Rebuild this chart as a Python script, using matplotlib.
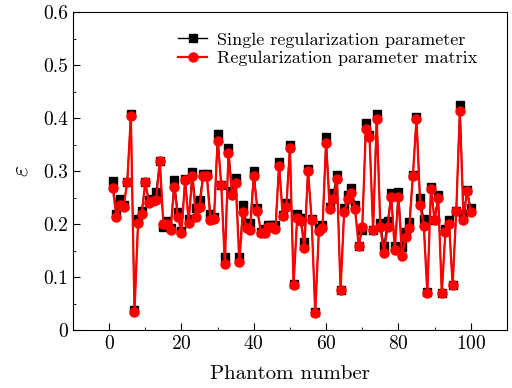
import matplotlib
matplotlib.use("Agg")
import matplotlib.pyplot as plt
from matplotlib.ticker import MultipleLocator

phantom = list(range(1, 101))

single_param = [
    0.281, 0.220, 0.248, 0.237, 0.280, 0.409, 0.037, 0.210, 0.225, 0.279,
    0.245, 0.247, 0.261, 0.320, 0.195, 0.206, 0.192, 0.283, 0.222, 0.187,
    0.286, 0.210, 0.299, 0.230, 0.245, 0.295, 0.295, 0.220, 0.214, 0.371,
    0.274, 0.137, 0.343, 0.262, 0.288, 0.138, 0.236, 0.202, 0.202, 0.300,
    0.230, 0.186, 0.190, 0.198, 0.198, 0.198, 0.318, 0.218, 0.239, 0.349,
    0.086, 0.219, 0.212, 0.166, 0.305, 0.210, 0.034, 0.192, 0.198, 0.365,
    0.233, 0.258, 0.293, 0.076, 0.230, 0.255, 0.268, 0.236, 0.159, 0.189,
    0.391, 0.368, 0.189, 0.409, 0.202, 0.159, 0.205, 0.258, 0.159, 0.261,
    0.157, 0.186, 0.204, 0.293, 0.403, 0.249, 0.209, 0.072, 0.271, 0.208,
    0.255, 0.070, 0.190, 0.208, 0.085, 0.224, 0.425, 0.220, 0.264, 0.230,
]

param_matrix = [
    0.268, 0.213, 0.237, 0.233, 0.279, 0.405, 0.034, 0.202, 0.219, 0.279,
    0.239, 0.244, 0.246, 0.320, 0.200, 0.200, 0.189, 0.271, 0.214, 0.184,
    0.283, 0.203, 0.291, 0.214, 0.232, 0.291, 0.291, 0.208, 0.210, 0.358,
    0.274, 0.124, 0.334, 0.255, 0.278, 0.128, 0.222, 0.192, 0.189, 0.291,
    0.225, 0.183, 0.184, 0.195, 0.195, 0.190, 0.310, 0.215, 0.232, 0.343,
    0.085, 0.211, 0.206, 0.155, 0.301, 0.208, 0.032, 0.187, 0.192, 0.354,
    0.228, 0.247, 0.285, 0.076, 0.222, 0.247, 0.258, 0.228, 0.159, 0.195,
    0.379, 0.365, 0.189, 0.399, 0.194, 0.146, 0.195, 0.252, 0.152, 0.252,
    0.139, 0.176, 0.192, 0.290, 0.398, 0.237, 0.196, 0.070, 0.266, 0.208,
    0.249, 0.070, 0.186, 0.200, 0.085, 0.225, 0.414, 0.208, 0.263, 0.222,
]

plt.rcParams['font.family'] = 'serif'
plt.rcParams['font.serif'] = ['cmr10']
plt.rcParams['mathtext.fontset'] = 'cm'
plt.rcParams['axes.formatter.use_mathtext'] = True

fig = plt.figure(figsize=(5.12, 3.88), dpi=100)
ax = fig.add_axes([0.1426, 0.1495, 0.8474, 0.8185])

ax.plot(phantom, single_param, color='black', lw=1.0, marker='s', ms=5.5,
        mec='black', mfc='black', label='Single regularization parameter', zorder=2)
ax.plot(phantom, param_matrix, color='red', lw=1.6, marker='o', ms=6.5,
        mec='red', mfc='red', label='Regularization parameter matrix', zorder=3)

ax.set_xlim(-10, 110)
ax.set_ylim(0, 0.6)
ax.xaxis.set_major_locator(MultipleLocator(20))
ax.xaxis.set_minor_locator(MultipleLocator(10))
ax.yaxis.set_major_locator(MultipleLocator(0.1))
ax.yaxis.set_minor_locator(MultipleLocator(0.05))
ax.yaxis.set_major_formatter(matplotlib.ticker.FuncFormatter(
    lambda v, p: '0' if abs(v) < 1e-9 else f'{v:.1f}'))
ax.tick_params(which='both', direction='in', top=False, right=False, labelsize=14)
ax.tick_params(which='major', length=5)
ax.tick_params(which='minor', length=2.5)

ax.set_xlabel('Phantom number', fontsize=15, labelpad=9)
ax.set_ylabel(r'$\varepsilon$', fontsize=17, labelpad=8)

ax.legend(loc='upper left', bbox_to_anchor=(0.212, 0.978), frameon=False,
          fontsize=13, handlelength=1.65, handletextpad=0.55, labelspacing=0.15,
          borderpad=0.2)

fig.savefig('out.png', dpi=100)
